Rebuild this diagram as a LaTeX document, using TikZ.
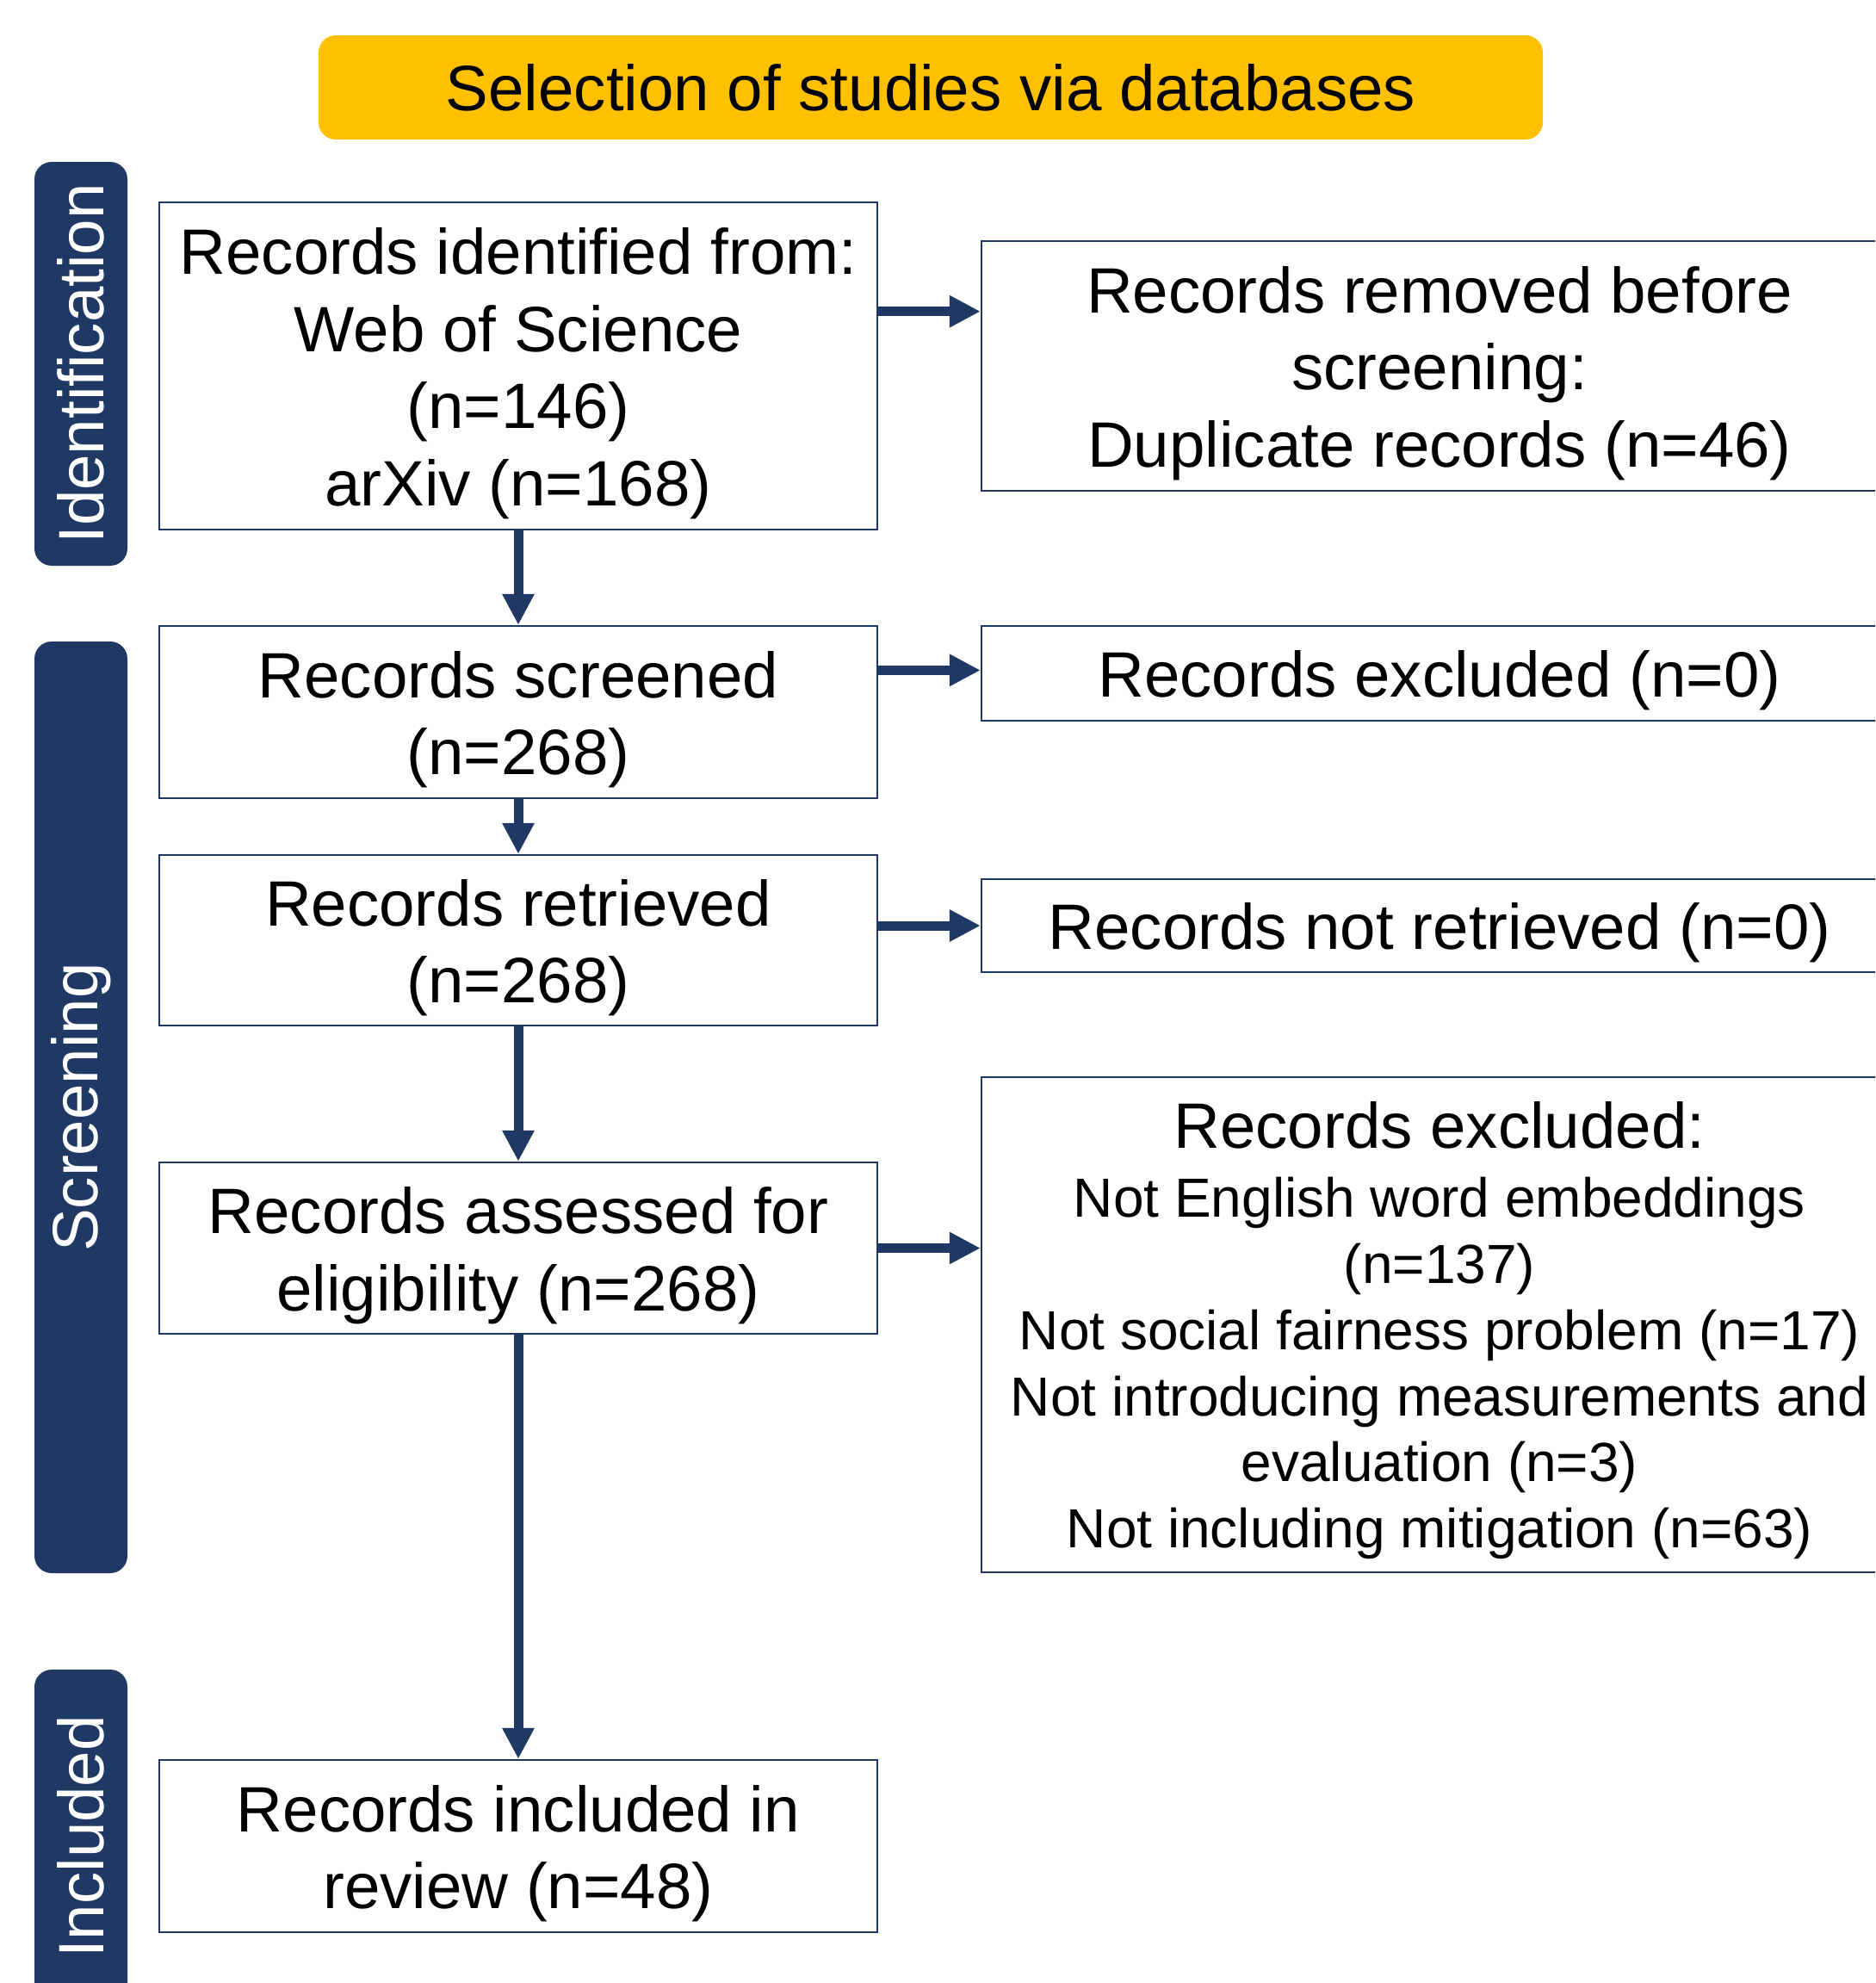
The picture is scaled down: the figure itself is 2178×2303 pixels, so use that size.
\documentclass[tikz,border=0pt]{standalone}
\usepackage{fontspec}
\setmainfont{Liberation Sans}
\usetikzlibrary{arrows.meta}
\definecolor{navy}{RGB}{31,56,100}
\definecolor{gold}{RGB}{255,192,0}
\begin{document}
\begin{tikzpicture}[x=0.3pt,y=-0.3pt,
  big/.style={font=\fontsize{22.35pt}{26.9pt}\selectfont},
  small/.style={font=\fontsize{19.2pt}{23.05pt}\selectfont},
  box/.style={draw=navy, line width=0.7pt, fill=white, inner sep=0pt},
  lbox/.style={box, minimum width=250.2pt},
  rbox/.style={box, minimum width=319.2pt},
  txt/.style={align=center, inner sep=0pt, big},
  side/.style={fill=navy, rounded corners=6pt, minimum width=32.4pt, inner sep=0pt},
  sidetext/.style={text=white, rotate=90, big, inner sep=0pt},
  flow/.style={navy, line width=3.3pt, -{Triangle[length=10.8pt,width=10.5pt]}}
]
\useasboundingbox (0,0) rectangle (2178,2303);
\clip (0,0) rectangle (2178,2303);

\node[fill=gold, rounded corners=6pt, minimum width=426.6pt, minimum height=36.3pt, big] (title) at (1081,101.5) {Selection of studies via databases};

\node[side, minimum height=140.7pt] (sid) at (94,422.5) {};
\node[sidetext] (sidl) at (sid.center) {Identification};
\node[side, minimum height=324.6pt] (sscr) at (94,1286) {};
\node[sidetext] (sscrl) at (sscr.center) {Screening};
\node[side, minimum height=116.4pt] (sinc) at (94,2133) {};
\node[sidetext] (sincl) at (sinc.center) {Included};

\node[lbox, minimum height=114pt] (b1) at (602,425) {};
\node[txt] (b1t) at ([yshift=-2.6pt]b1.center) {Records identified from:\\Web of Science\\(n=146)\\arXiv (n=168)};
\node[lbox, minimum height=60pt] (b2) at (602,827) {};
\node[txt] (b2t) at ([yshift=-2.6pt]b2.center) {Records screened\\(n=268)};
\node[lbox, minimum height=59.4pt] (b3) at (602,1092) {};
\node[txt] (b3t) at ([yshift=-2.6pt]b3.center) {Records retrieved\\(n=268)};
\node[lbox, minimum height=59.7pt] (b4) at (602,1449.5) {};
\node[txt] (b4t) at ([yshift=-2.6pt]b4.center) {Records assessed for\\eligibility (n=268)};
\node[lbox, minimum height=60pt] (b5) at (602,2144) {};
\node[txt] (b5t) at ([yshift=-2.6pt]b5.center) {Records included in\\review (n=48)};

\node[rbox, minimum height=87pt] (r1) at (1672,425) {};
\node[txt] (r1t) at ([yshift=-2.6pt]r1.center) {Records removed before\\screening:\\Duplicate records (n=46)};
\node[rbox, minimum height=33pt] (r2) at (1672,781.7) {};
\node[txt] (r2t) at ([yshift=-2.6pt]r2.center) {Records excluded (n=0)};
\node[rbox, minimum height=32.4pt] (r3) at (1672,1075) {};
\node[txt] (r3t) at ([yshift=-2.6pt]r3.center) {Records not retrieved (n=0)};
\node[rbox, minimum height=172.5pt] (r4) at (1672,1538.5) {};
\node[txt, small] (r4t) at ([yshift=-2.0pt]r4.center) {{\fontsize{22.35pt}{26.9pt}\selectfont Records excluded:}\\[1pt]Not English word embeddings\\(n=137)\\Not social fairness problem (n=17)\\Not introducing measurements and\\evaluation (n=3)\\Not including mitigation (n=63)};

\draw[flow] (b1) -- (b2);
\draw[flow] (b2) -- (b3);
\draw[flow] (b3) -- (b4);
\draw[flow] (b4) -- (b5);
\draw[flow] ([yshift=19pt]b1.east) -- ([yshift=19pt]r1.west);
\draw[flow] ([yshift=1pt]b2.east |- r2.west) -- ([yshift=1pt]r2.west);
\draw[flow] (b3.east |- r3.west) -- (r3.west);
\draw[flow] (b4.east) -- (r4.west |- b4.east);
\end{tikzpicture}
\end{document}
